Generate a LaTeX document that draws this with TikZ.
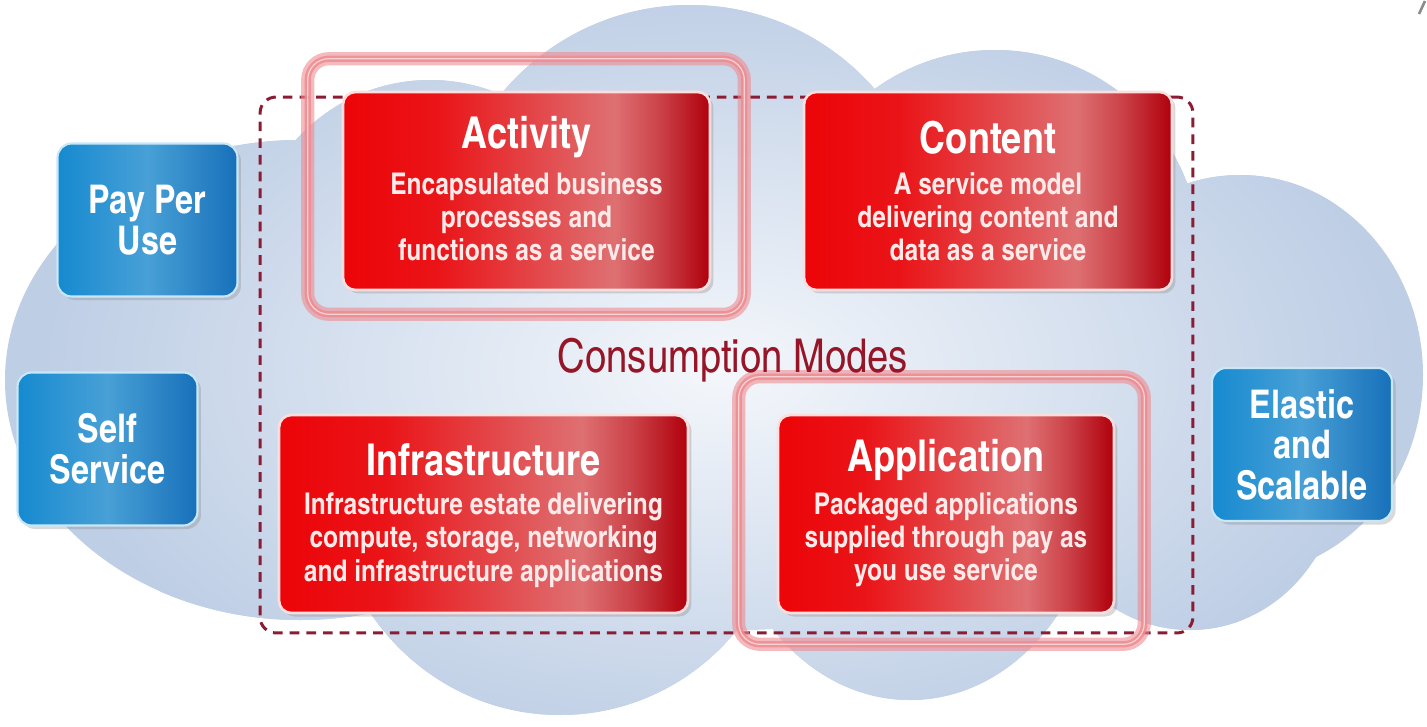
\documentclass[tikz,border=0pt]{standalone}
\usepackage{fontspec}
\setmainfont{texgyreheroscn}[Extension=.otf, UprightFont=*-regular, BoldFont=*-bold, ItalicFont=*-italic, BoldItalicFont=*-bolditalic]
\usetikzlibrary{shadows}
\definecolor{cloudedge}{RGB}{190,206,229}
\definecolor{cloudlight}{RGB}{244,247,251}
\definecolor{modered}{RGB}{236,4,8}
\definecolor{modepink}{RGB}{222,112,114}
\definecolor{modedark}{RGB}{176,0,12}
\definecolor{moderim}{RGB}{252,222,222}
\definecolor{modetxt}{RGB}{255,234,234}
\definecolor{featblue}{RGB}{22,138,208}
\definecolor{featlight}{RGB}{72,160,214}
\definecolor{featdark}{RGB}{24,112,186}
\definecolor{featrim}{RGB}{200,232,248}
\definecolor{framered}{RGB}{138,28,52}
\definecolor{ringpink}{RGB}{238,140,145}
\definecolor{labelred}{RGB}{150,22,40}
\pgfdeclarehorizontalshading{modeshade}{100bp}{color(0bp)=(modered); color(25bp)=(modered); color(38bp)=(modered!85!modepink); color(62bp)=(modepink); color(68bp)=(modepink!60!modedark); color(75bp)=(modedark); color(100bp)=(modedark)}
\pgfdeclarehorizontalshading{featshade}{100bp}{color(0bp)=(featblue); color(25bp)=(featblue); color(50bp)=(featlight); color(75bp)=(featdark); color(100bp)=(featdark)}
\pgfdeclarelayer{back}
\pgfsetlayers{back,main}
\newcommand{\cmmode}[5] {\node at (#1) (#2) [modebox, minimum width=#3] {}; \node at ([yshift=30.6pt]#2.center) (#2-title) [modetitle] {#4}; \node at ([yshift=-14.7pt]#2.center) (#2-text) [modetext] {#5};}
\newcommand{\cmfeature}[3] {\node at (#1) (#2) [featbox] {#3};}
\newcommand{\cmring}[3] {\begin{pgfonlayer}{back} \draw [ringglow] ([shift={#2}]#1.north west) rectangle ([shift={#3}]#1.south east); \draw [ringband] ([shift={#2}]#1.north west) rectangle ([shift={#3}]#1.south east); \draw [ringline] ([shift={#2}]#1.north west) rectangle ([shift={#3}]#1.south east); \end{pgfonlayer}}

\begin{document}
\begin{tikzpicture}[x=0.02cm, y=-0.02cm,
  modebox/.style={shade, shading=modeshade, draw=moderim, line width=1.5pt, rounded corners=7pt, minimum height=3.96cm, drop shadow={opacity=.3, shadow xshift=2pt, shadow yshift=-2pt}},
  modetitle/.style={text=white, font=\fontsize{25}{28}\selectfont\bfseries},
  modetext/.style={text=modetxt, align=center, font=\fontsize{17}{19}\selectfont\bfseries},
  featbox/.style={shade, shading=featshade, draw=featrim, line width=1.2pt, rounded corners=8pt, minimum width=3.6cm, minimum height=3.06cm, align=center, text=white, font=\fontsize{22.5}{23}\selectfont\bfseries, drop shadow={opacity=.3, shadow xshift=2pt, shadow yshift=-2pt}},
  ringglow/.style={draw=ringpink, line width=7.5pt, draw opacity=.6, rounded corners=12pt},
  ringband/.style={draw=ringpink, line width=3.5pt, draw opacity=.85, rounded corners=12pt},
  ringline/.style={draw=white, line width=.7pt, draw opacity=.6, rounded corners=12pt}]
\useasboundingbox (0,0) rectangle (1427,727);

\begin{pgfonlayer}{back}
% cloud
\fill [cloudedge] \foreach \cx/\cy/\rx/\ry in {300/380/295/240, 430/260/180/180, 690/250/245/245, 995/255/205/205, 1240/375/183/200, 1190/470/150/160, 560/480/230/235, 910/470/190/230, 730/380/450/250} { (\cx,\cy) ellipse [x radius=\rx, y radius=\ry] };
\begin{scope}
\clip \foreach \cx/\cy/\rx/\ry in {300/380/295/240, 430/260/180/180, 690/250/245/245, 995/255/205/205, 1240/375/183/200, 1190/470/150/160, 560/480/230/235, 910/470/190/230, 730/380/450/250} { (\cx,\cy) ellipse [x radius=\rx, y radius=\ry] };
\shade [inner color=cloudlight, outer color=cloudedge] (720,370) ellipse [x radius=680, y radius=390];
\end{scope}
\node at (726.5,365) (frame) [draw=framered, line width=1.7pt, dash pattern=on 5.5pt off 4pt, rounded corners=9pt, minimum width=18.66cm, minimum height=10.72cm] {};
\end{pgfonlayer}

\node at (733,360) (modes) [text=labelred, font=\fontsize{26.5}{30}\selectfont] {Consumption Modes};

\cmmode {526.5,191} {activity} {7.34cm} {Activity} {Encapsulated business\\processes and\\functions as a service};
\cmmode {988,191} {content} {7.36cm} {Content} {A service model\\delivering content and\\data as a service};
\cmmode {483.5,514} {infra} {8.18cm} {Infrastructure} {Infrastructure estate delivering\\compute, storage, networking\\and infrastructure applications};
\cmmode {946,514} {application} {6.72cm} {Application} {Packaged applications\\supplied through pay as\\you use service};

\cmring {activity} {(-34,-32)} {(33,23)};
\cmring {application} {(-38,-37)} {(29,30)};

\cmfeature {147.5,220} {payperuse} {Pay Per\\Use};
\cmfeature {107.5,449} {selfservice} {Self\\Service};
\cmfeature {1302,444.5} {elastic} {Elastic\\and\\Scalable};

\draw [black!45, line width=1.5pt] (1419,14) -- (1425,1);
\end{tikzpicture}
\end{document}
